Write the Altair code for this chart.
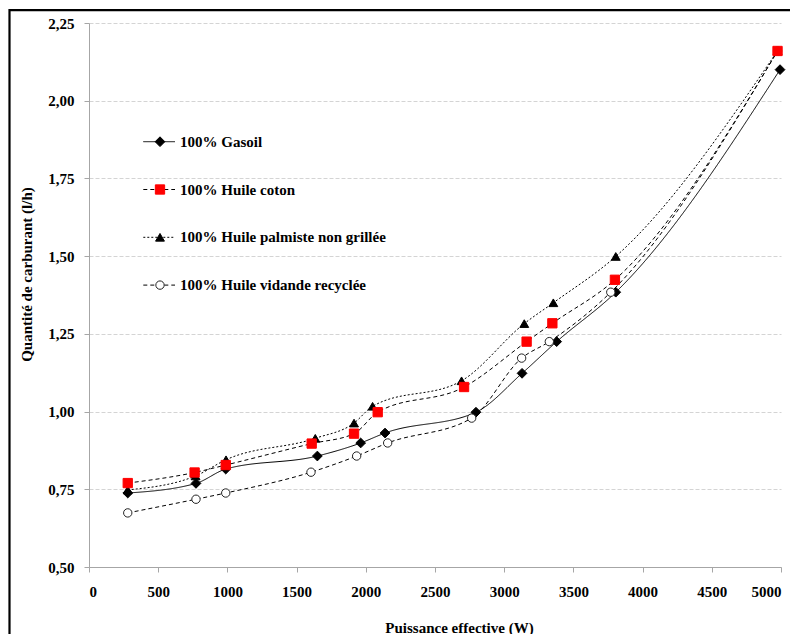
import altair as alt
import pandas as pd

series = [
    "100% Gasoil",
    "100% Huile coton",
    "100% Huile palmiste non grillée",
    "100% Huile vidande recyclée",
]

gasoil_x = [280, 773, 988, 1650, 1963, 2139, 2796, 3129, 3379, 3806, 4993]
gasoil_y = [0.738, 0.769, 0.815, 0.857, 0.899, 0.931, 0.998, 1.123, 1.225, 1.384, 2.100]

coton_x = [280, 763, 988, 1609, 1915, 2086, 2710, 3162, 3348, 3800, 4975]
coton_y = [0.770, 0.804, 0.828, 0.897, 0.929, 0.998, 1.079, 1.225, 1.284, 1.424, 2.160]

palm_x = [280, 770, 990, 1635, 1915, 2049, 2692, 3145, 3355, 3806, 4975]
palm_y = [0.748, 0.793, 0.845, 0.914, 0.963, 1.017, 1.099, 1.283, 1.350, 1.499, 2.160]

recy_x = [280, 773, 988, 1604, 1934, 2158, 2765, 3126, 3326, 3770, 4975]
recy_y = [0.674, 0.718, 0.738, 0.805, 0.857, 0.899, 0.979, 1.172, 1.225, 1.384, 2.160]

x_ticks = [0, 500, 1000, 1500, 2000, 2500, 3000, 3500, 4000, 4500, 5000]
y_ticks = [0.50, 0.75, 1.00, 1.25, 1.50, 1.75, 2.00, 2.25]

# drawing order of the markers (coton on top, as in the original)
z_order = [2, 4, 1, 3]

rows = []
for name, z, xs, ys in zip(series, z_order, [gasoil_x, coton_x, palm_x, recy_x],
                           [gasoil_y, coton_y, palm_y, recy_y]):
    for i, (a, b) in enumerate(zip(xs, ys)):
        rows.append({"serie": name, "p": a, "q": b, "k": i, "z": z})
df = pd.DataFrame(rows)

leg = pd.DataFrame({"serie": series, "i": list(range(len(series)))})

FONT = "Liberation Serif"
W, H = 692, 544
XMAX, YMIN, YMAX = 5000, 0.5, 2.25

shape_scale = alt.Scale(domain=series, range=["diamond", "square", "triangle-up", "circle"])
fill_scale = alt.Scale(domain=series, range=["#000000", "#ff0000", "#000000", "#ffffff"])
stroke_scale = alt.Scale(domain=series, range=["#000000", "#ff0000", "#000000", "#222222"])
dash_scale = alt.Scale(domain=series, range=[[1, 0], [4, 3], [2, 2], [4, 3]])
size_scale = alt.Scale(domain=series, range=[95, 70, 110, 110])

xs = alt.Scale(domain=[0, XMAX], nice=False, zero=False)
ys = alt.Scale(domain=[YMIN, YMAX], nice=False, zero=False)

x_axis = alt.Axis(
    values=x_ticks, title="Puissance effective (W)", grid=False, format="d",
    labelFont=FONT, labelFontWeight="bold", labelFontSize=15, labelColor="#000",
    labelPadding=19, labelBaseline="middle",
    titleFont=FONT, titleFontWeight="bold", titleFontSize=15, titleColor="#000",
    titleX=370, titleY=60, titleBaseline="middle",
    domainColor="#a6a6a6", tickColor="#a6a6a6", tickSize=5,
)
y_axis = alt.Axis(
    values=y_ticks, title="Quantité de carburant (l/h)",
    labelExpr="replace(format(datum.value, '.2f'), '.', ',')",
    labelFont=FONT, labelFontWeight="bold", labelFontSize=15, labelColor="#000",
    labelPadding=10,
    titleFont=FONT, titleFontWeight="bold", titleFontSize=15, titleColor="#000",
    titleX=-63, titleY=251, titleBaseline="middle",
    domainColor="#a6a6a6", tickColor="#a6a6a6", tickSize=5,
    grid=True, gridColor="#d4d4d4", gridDash=[4, 2], gridWidth=1,
)

base = alt.Chart(df)

lines = base.mark_line(interpolate="monotone", color="#000000", strokeWidth=1).encode(
    x=alt.X("p:Q", scale=xs, axis=x_axis),
    y=alt.Y("q:Q", scale=ys, axis=y_axis),
    strokeDash=alt.StrokeDash("serie:N", scale=dash_scale, legend=None),
    detail="serie:N",
    order="k:Q",
)

points = base.mark_point(filled=True, opacity=1, strokeWidth=1).encode(
    x=alt.X("p:Q", scale=xs),
    y=alt.Y("q:Q", scale=ys),
    shape=alt.Shape("serie:N", scale=shape_scale, legend=None),
    fill=alt.Fill("serie:N", scale=fill_scale, legend=None),
    stroke=alt.Stroke("serie:N", scale=stroke_scale, legend=None),
    size=alt.Size("serie:N", scale=size_scale, legend=None),
    order="z:Q",
)

# Manual legend placed inside the plot area (positions computed from the scale)
px_per_x = W / XMAX
px_per_y = H / (YMAX - YMIN)
lg = alt.Chart(leg).transform_calculate(
    ly=f"{YMAX} - (118.7 + 47.8 * datum.i) / {px_per_y}",
    lx0=f"54.3 / {px_per_x}",
    lx1=f"86 / {px_per_x}",
    lxm=f"71 / {px_per_x}",
    lxt=f"91 / {px_per_x}",
)

leg_lines = lg.mark_rule(color="#000000", strokeWidth=1).encode(
    x=alt.X("lx0:Q", scale=xs),
    x2="lx1:Q",
    y=alt.Y("ly:Q", scale=ys),
    strokeDash=alt.StrokeDash("serie:N", scale=dash_scale, legend=None),
)
leg_pts = lg.mark_point(filled=True, opacity=1, strokeWidth=1).encode(
    x=alt.X("lxm:Q", scale=xs),
    y=alt.Y("ly:Q", scale=ys),
    shape=alt.Shape("serie:N", scale=shape_scale, legend=None),
    fill=alt.Fill("serie:N", scale=fill_scale, legend=None),
    stroke=alt.Stroke("serie:N", scale=stroke_scale, legend=None),
    size=alt.Size("serie:N", scale=size_scale, legend=None),
)
leg_txt = lg.mark_text(
    align="left", baseline="middle", font=FONT, fontWeight="bold",
    fontSize=15, color="#000000",
).encode(
    x=alt.X("lxt:Q", scale=xs),
    y=alt.Y("ly:Q", scale=ys),
    text="serie:N",
)

frame = alt.Chart(pd.DataFrame({"a": [0]})).mark_rect(
    fill=None, stroke="#000000", strokeWidth=2.2
).encode(
    x=alt.value(-79.5), x2=alt.value(760), y=alt.value(-12.8), y2=alt.value(680),
)

chart = alt.layer(frame, lines, points, leg_lines, leg_pts, leg_txt).properties(
    width=W, height=H,
    autosize=alt.AutoSizeParams(type="none"),
    padding={"left": 89, "top": 23, "right": 9, "bottom": 67},
    background="#ffffff",
).configure_view(stroke=None)

chart.save("out.html", embed_options={"renderer": "svg", "actions": False})
